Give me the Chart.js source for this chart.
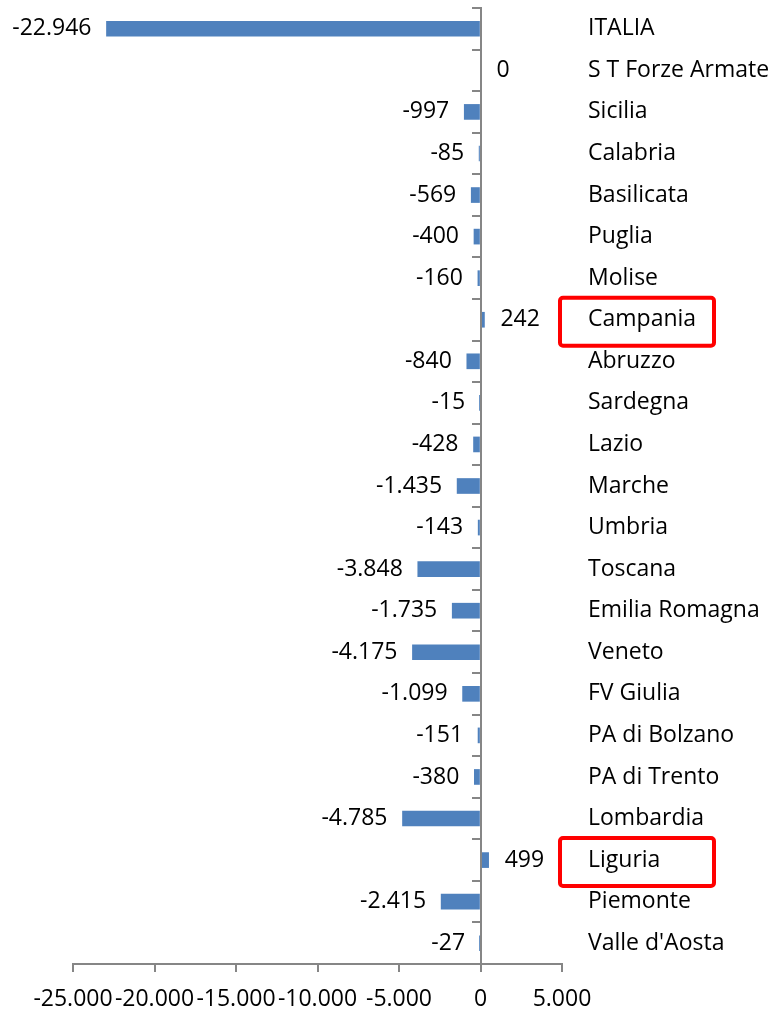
<!DOCTYPE html>
<html>
<head>
<meta charset="utf-8">
<script src="https://cdn.jsdelivr.net/npm/chart.js@4.4.1/dist/chart.umd.min.js"></script>
<style>
  html, body { margin: 0; padding: 0; background: #fff; }
  #wrap { width: 772px; height: 1009px; position: relative; }
</style>
</head>
<body>
<div id="wrap"><canvas id="chart"></canvas></div>
<script>
// regions, top to bottom
const regions = ['ITALIA', 'S T Forze Armate', 'Sicilia', 'Calabria', 'Basilicata', 'Puglia', 'Molise',
  'Campania', 'Abruzzo', 'Sardegna', 'Lazio', 'Marche', 'Umbria', 'Toscana', 'Emilia Romagna', 'Veneto',
  'FV Giulia', 'PA di Bolzano', 'PA di Trento', 'Lombardia', 'Liguria', 'Piemonte', "Valle d'Aosta"];
const values = [-22946, 0, -997, -85, -569, -400, -160, 242, -840, -15, -428, -1435, -143, -3848,
  -1735, -4175, -1099, -151, -380, -4785, 499, -2415, -27];
const xTicks = [-25000, -20000, -15000, -10000, -5000, 0, 5000];
const highlighted = ['Campania', 'Liguria'];

const FONT = "'Open Sans', sans-serif";
const AXIS = '#868686';

// italian thousands separator
function fmt(v) {
  const s = Math.abs(v).toString().replace(/\B(?=(\d{3})+(?!\d))/g, '.');
  return (v < 0 ? '-' : '') + s;
}

const valueLabels = {
  id: 'valueLabels',
  afterDatasetsDraw(chart) {
    const ctx = chart.ctx;
    const meta = chart.getDatasetMeta(0);
    ctx.save();
    ctx.font = `23px ${FONT}`;
    ctx.fillStyle = '#000';
    ctx.textBaseline = 'middle';
    meta.data.forEach((bar, i) => {
      const v = values[i];
      if (v < 0) {
        ctx.textAlign = 'right';
        ctx.fillText(fmt(v), bar.x - 15, bar.y);
      } else {
        ctx.textAlign = 'left';
        ctx.fillText(fmt(v), bar.x + 16, bar.y);
      }
    });
    ctx.restore();
  }
};

const boxes = {
  id: 'boxes',
  afterDraw(chart) {
    const ctx = chart.ctx;
    const yScale = chart.scales.y;
    const area = chart.chartArea;
    ctx.save();
    ctx.strokeStyle = '#ff0000';
    ctx.lineWidth = 4;
    highlighted.forEach(name => {
      const y = yScale.getPixelForValue(regions.indexOf(name));
      ctx.beginPath();
      ctx.roundRect(area.right - 2, y - 22, 154, 48, 3);
      ctx.stroke();
    });
    ctx.restore();
  }
};

new Chart(document.getElementById('chart'), {
  type: 'bar',
  data: {
    labels: regions,
    datasets: [{
      data: values,
      backgroundColor: '#4f81bd',
      barThickness: 15,
      yAxisID: 'y'
    }]
  },
  options: {
    indexAxis: 'y',
    responsive: true,
    maintainAspectRatio: false,
    animation: false,
    layout: { padding: { left: 73, top: 8, right: 0, bottom: 0 } },
    plugins: { legend: { display: false }, tooltip: { enabled: false } },
    scales: {
      x: {
        min: -25000,
        max: 5000,
        afterBuildTicks: scale => { scale.ticks = xTicks.map(v => ({ value: v })); },
        afterFit: scale => { scale.height = 45; },
        grid: { drawOnChartArea: false, tickLength: 8, color: AXIS, lineWidth: 2 },
        border: { color: AXIS, width: 2 },
        ticks: {
          callback: v => fmt(v),
          autoSkip: false, maxRotation: 0, minRotation: 0,
          color: '#000', padding: 14,
          font: { family: FONT, size: 23 }
        }
      },
      y: {
        type: 'category',
        position: 'right',
        offset: true,
        afterFit: scale => {
          scale.width = 210;
          scale.paddingTop = 0;
          scale.paddingBottom = 0;
        },
        grid: { display: false, drawTicks: false },
        border: { display: false },
        ticks: { color: '#000', padding: 26, font: { family: FONT, size: 23 } }
      },
      y2: {
        type: 'category',
        axis: 'y',
        position: { x: 0 },
        offset: true,
        ticks: { display: false },
        grid: { offset: true, drawOnChartArea: false, tickLength: 8, color: AXIS, lineWidth: 2 },
        border: { color: AXIS, width: 2, z: 1 }
      }
    }
  },
  plugins: [valueLabels, boxes]
});
</script>
</body>
</html>
